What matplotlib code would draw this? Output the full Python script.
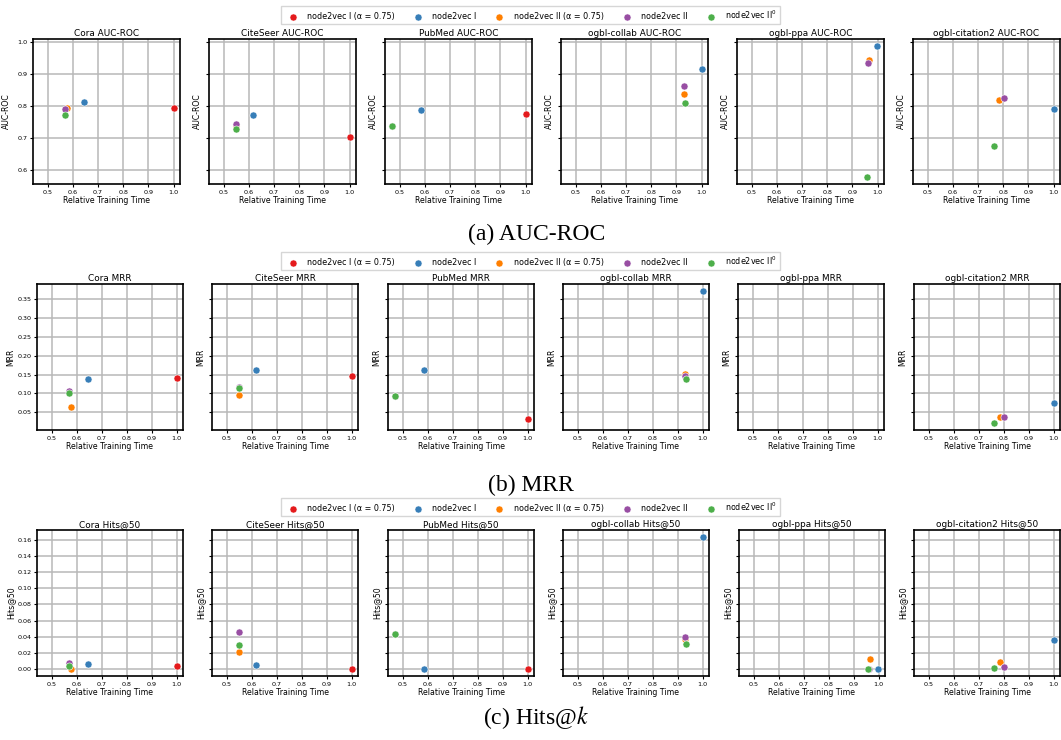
import matplotlib
matplotlib.use("Agg")
import matplotlib.pyplot as plt
import numpy as np

nan = np.nan

datasets = ["Cora", "CiteSeer", "PubMed", "ogbl-collab", "ogbl-ppa", "ogbl-citation2"]
methods = ["node2vec I (\u03b1 = 0.75)", "node2vec I", "node2vec II (\u03b1 = 0.75)",
           "node2vec II", "node2vec II$^0$"]
colors = ["#e41a1c", "#377eb8", "#ff7f00", "#984ea3", "#4daf4a"]

# relative training time per method, one value per dataset
time_I_a = [1.0, 1.0, 1.0, nan, nan, nan]
time_I = [0.644, 0.618, 0.584, 1.0, 0.998, 1.0]
time_II_a = [0.577, 0.549, 0.471, 0.931, 0.964, 0.785]
time_II = [0.570, 0.549, 0.471, 0.929, 0.961, 0.803]
time_II0 = [0.570, 0.549, 0.471, 0.935, 0.956, 0.763]

auc_I_a = [0.792, 0.703, 0.775, nan, nan, nan]
auc_I = [0.813, 0.770, 0.788, 0.915, 0.988, 0.789]
auc_II_a = [0.794, 0.737, 0.736, 0.837, 0.942, 0.818]
auc_II = [0.789, 0.743, 0.736, 0.861, 0.934, 0.825]
auc_II0 = [0.771, 0.728, 0.736, 0.810, 0.576, 0.675]

mrr_I_a = [0.140, 0.145, 0.033, nan, nan, nan]
mrr_I = [0.138, 0.161, 0.163, 0.372, nan, 0.076]
mrr_II_a = [0.064, 0.097, 0.094, 0.151, nan, 0.039]
mrr_II = [0.106, 0.117, 0.094, 0.147, nan, 0.037]
mrr_II0 = [0.100, 0.114, 0.094, 0.137, nan, 0.021]

hits_I_a = [0.0037, 0.0, 0.0, nan, nan, nan]
hits_I = [0.0066, 0.0054, 0.0, 0.1637, 0.0, 0.0356]
hits_II_a = [0.0, 0.0211, 0.043, 0.0376, 0.0132, 0.0091]
hits_II = [0.0079, 0.0463, 0.043, 0.0393, 0.0, 0.0025]
hits_II0 = [0.0041, 0.0298, 0.043, 0.0314, 0.0, 0.0020]

times = [time_I_a, time_I, time_II_a, time_II, time_II0]
rows = [
    ("AUC-ROC", [auc_I_a, auc_I, auc_II_a, auc_II, auc_II0], "(a) AUC-ROC"),
    ("MRR", [mrr_I_a, mrr_I, mrr_II_a, mrr_II, mrr_II0], "(b) MRR"),
    ("Hits@50", [hits_I_a, hits_I, hits_II_a, hits_II, hits_II0], "(c) Hits@$k$"),
]

plt.rcParams["mathtext.fontset"] = "dejavusans"

W, H = 1061, 740
fig = plt.figure(figsize=(W / 100, H / 100), dpi=100)

row_lefts = [[33, 209, 385, 561, 737, 913],
             [37, 212, 388, 563, 738, 914],
             [37, 212, 388, 563, 739, 914]]
row_widths = [147, 146, 146]
row_tops = [39, 284, 530]
row_bots = [184, 430, 676]
legend_y = [15, 261, 507]
caption_x = [537, 531, 536]
caption_y = [234, 485, 718]

for r, (metric, values, caption) in enumerate(rows):
    first = None
    ax_w = row_widths[r]
    for d, name in enumerate(datasets):
        rect = [row_lefts[r][d] / W, 1 - row_bots[r] / H, ax_w / W,
                (row_bots[r] - row_tops[r]) / H]
        ax = fig.add_axes(rect, sharey=first)
        if first is None:
            first = ax
            ax.yaxis.set_label_coords(-22 / ax_w, 0.5)
        else:
            ax.tick_params(labelleft=False)
            ax.yaxis.set_label_coords(-7 / ax_w, 0.5)
        handles = []
        for m in range(len(methods)):
            h = ax.scatter([times[m][d]], [values[m][d]], s=26, color=colors[m],
                           edgecolor="white", linewidth=0.4, zorder=3,
                           label=methods[m])
            handles.append(h)
        ax.set_xlim(0.442, 1.025)
        ax.set_xticks([0.5, 0.6, 0.7, 0.8, 0.9, 1.0])
        ax.grid(True, color="#b8b8b8", linewidth=1.1)
        ax.set_axisbelow(True)
        for sp in ax.spines.values():
            sp.set_linewidth(1.2)
            sp.set_color("black")
        ax.tick_params(labelsize=4.6, length=2.5, width=0.8, pad=1.5)
        ax.set_title(name + " " + metric, fontsize=6.4, pad=2)
        ax.set_xlabel("Relative Training Time", fontsize=5.6, labelpad=1)
        ax.set_ylabel(metric, fontsize=5.6)
    if metric == "AUC-ROC":
        first.set_yticks([0.6, 0.7, 0.8, 0.9, 1.0])
    elif metric == "MRR":
        first.set_yticks([0.05, 0.10, 0.15, 0.20, 0.25, 0.30, 0.35])
    else:
        first.set_yticks(np.arange(0, 0.17, 0.02))
    leg = fig.legend(handles=handles, labels=methods, loc="center",
                     bbox_to_anchor=(0.5, 1 - legend_y[r] / H), ncol=5,
                     fontsize=5.8, frameon=True, handletextpad=0.75,
                     columnspacing=1.9, borderpad=0.4, fancybox=False)
    leg.get_frame().set_edgecolor("#cccccc")
    fig.text(caption_x[r] / W, 1 - caption_y[r] / H, caption, ha="center",
             va="center", fontsize=17, family="Liberation Serif",
             math_fontfamily="stix")

fig.savefig("out.png", dpi=100)
